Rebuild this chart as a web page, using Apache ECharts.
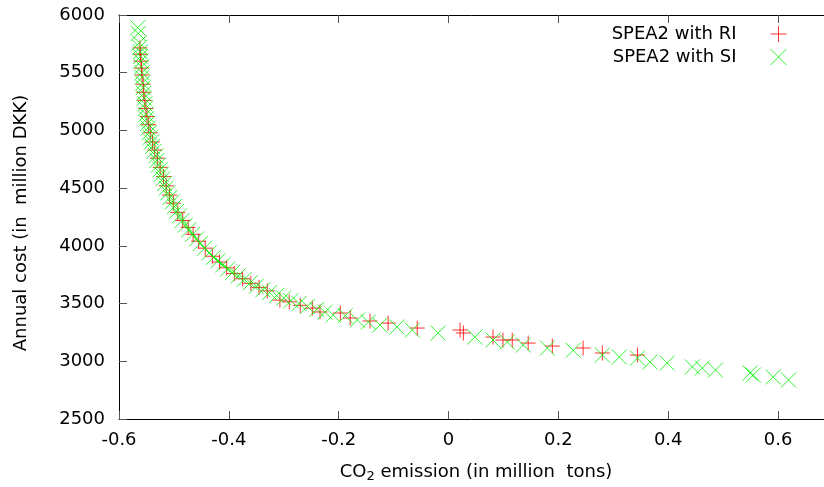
<!DOCTYPE html>
<html>
<head>
<meta charset="utf-8">
<script src="https://cdn.jsdelivr.net/npm/echarts@6/dist/echarts.min.js"></script>
<style>
  html, body { margin: 0; padding: 0; background: #fff; }
  #chart { width: 824px; height: 487px; }
</style>
</head>
<body>
<div id="chart"></div>
<script>
  // SPEA2 with RI (red +)
  const riCo2 = [
    -0.562, -0.561, -0.560, -0.559, -0.558, -0.556, -0.555, -0.553, -0.551, -0.549,
    -0.546, -0.543, -0.539, -0.535, -0.530, -0.525, -0.519, -0.514, -0.508, -0.501,
    -0.493, -0.484, -0.474, -0.465, -0.455, -0.443, -0.430, -0.417, -0.404, -0.390,
    -0.375, -0.360, -0.345, -0.330, -0.307, -0.290, -0.270, -0.248, -0.234, -0.197,
    -0.179, -0.143, -0.110, -0.057, 0.021, 0.027, 0.081, 0.099, 0.116, 0.145,
    0.189, 0.245, 0.280, 0.344
  ];
  const riCost = [
    5715, 5660, 5600, 5540, 5480, 5400, 5330, 5260, 5190, 5120,
    5050, 4980, 4900, 4830, 4760, 4680, 4600, 4520, 4440, 4370,
    4290, 4220, 4160, 4100, 4040, 3980, 3910, 3860, 3810, 3760,
    3715, 3675, 3640, 3610, 3530, 3515, 3485, 3461, 3427, 3418,
    3375, 3349, 3331, 3288, 3271, 3245, 3210, 3184, 3184, 3158,
    3132, 3115, 3072, 3054
  ];

  // SPEA2 with SI (green x)
  const siCo2 = [
    -0.566, -0.565, -0.563, -0.562, -0.561, -0.561, -0.560, -0.559, -0.558, -0.558,
    -0.557, -0.556, -0.555, -0.554, -0.553, -0.552, -0.551, -0.550, -0.548, -0.547,
    -0.545, -0.543, -0.541, -0.539, -0.536, -0.533, -0.531, -0.528, -0.525, -0.523,
    -0.520, -0.517, -0.514, -0.511, -0.507, -0.503, -0.499, -0.495, -0.490, -0.485,
    -0.479, -0.473, -0.466, -0.459, -0.452, -0.444, -0.436, -0.428, -0.420, -0.411,
    -0.402, -0.393, -0.383, -0.372, -0.361, -0.350, -0.338, -0.326, -0.313, -0.300,
    -0.287, -0.272, -0.257, -0.240, -0.225, -0.210, -0.188, -0.166, -0.146, -0.125,
    -0.094, -0.066, -0.019, 0.048, 0.081, 0.107, 0.136, 0.180, 0.227, 0.280,
    0.311, 0.344, 0.367, 0.398, 0.444, 0.462, 0.486, 0.549, 0.555, 0.591,
    0.619
  ];
  const siCost = [
    5890, 5840, 5760, 5720, 5680, 5640, 5600, 5550, 5500, 5460,
    5410, 5370, 5320, 5280, 5230, 5190, 5140, 5100, 5060, 5020,
    4980, 4940, 4900, 4860, 4820, 4780, 4740, 4700, 4660, 4620,
    4580, 4540, 4500, 4460, 4420, 4380, 4340, 4300, 4260, 4220,
    4180, 4140, 4100, 4060, 4020, 3980, 3940, 3900, 3870, 3835,
    3800, 3770, 3740, 3710, 3680, 3650, 3620, 3595, 3570, 3548,
    3525, 3500, 3475, 3450, 3425, 3401, 3395, 3357, 3340, 3314,
    3297, 3271, 3245, 3210, 3184, 3167, 3141, 3115, 3095, 3054,
    3037, 3028, 2994, 2985, 2951, 2942, 2924, 2898, 2881, 2864,
    2838
  ];

  const seriesNames = ['SPEA2 with RI', 'SPEA2 with SI'];
  const xTicks = { min: -0.6, max: 0.7, interval: 0.2 };
  const yTicks = { min: 2500, max: 6000, interval: 500 };

  const PLUS = 'path://M0,5L10,5M5,0L5,10';
  const CROSS = 'path://M0,0L10,10M0,10L10,0';
  const FONT = 'DejaVu Sans';
  const FS = 18;

  const zip = (xs, ys) => xs.map((x, i) => [x, ys[i]]);

  const chart = echarts.init(document.getElementById('chart'), null, { renderer: 'canvas' });

  const tickStyle = {
    show: true,
    inside: true,
    length: 8,
    lineStyle: { color: '#555', width: 1 }
  };

  chart.setOption({
    animation: false,
    backgroundColor: '#fff',
    textStyle: { fontFamily: FONT, color: '#000' },
    grid: { left: 119, right: -9, top: 15, bottom: 68, outerBoundsMode: 'none' },
    legend: {
      orient: 'vertical',
      right: 37,
      top: 25,
      padding: 0,
      align: 'right',
      itemWidth: 16,
      itemHeight: 16,
      itemGap: 5,
      selectedMode: false,
      itemStyle: { borderWidth: 1 },
      textStyle: { fontFamily: FONT, fontSize: FS, color: '#000', padding: [0, 29, 0, 0] },
      data: [
        { name: seriesNames[0], icon: PLUS },
        { name: seriesNames[1], icon: CROSS }
      ]
    },
    xAxis: [
      {
        type: 'value',
        position: 'bottom',
        min: xTicks.min,
        max: xTicks.max,
        interval: xTicks.interval,
        name: '{n|CO}{s|2}{n| emission (in million  tons)}',
        nameLocation: 'middle',
        nameGap: 42,
        nameTextStyle: {
          rich: {
            n: { fontFamily: FONT, fontSize: FS, color: '#000' },
            s: { fontFamily: FONT, fontSize: 13, color: '#000', padding: [9, 0, 0, 0] }
          }
        },
        axisLine: { show: true, onZero: false, lineStyle: { color: '#000', width: 1 } },
        axisTick: tickStyle,
        splitLine: { show: false },
        axisLabel: {
          showMaxLabel: false,
          margin: 12,
          fontFamily: FONT,
          fontSize: FS,
          color: '#000',
          formatter: v => (Math.round(v * 10) / 10).toString()
        }
      },
      {
        type: 'value',
        position: 'top',
        min: xTicks.min,
        max: xTicks.max,
        interval: xTicks.interval,
        axisLine: { show: true, onZero: false, lineStyle: { color: '#000', width: 1 } },
        axisTick: tickStyle,
        splitLine: { show: false },
        axisLabel: { show: false }
      }
    ],
    yAxis: {
      type: 'value',
      min: yTicks.min,
      max: yTicks.max,
      interval: yTicks.interval,
      name: 'Annual cost (in  million DKK)',
      nameLocation: 'middle',
      nameGap: 89,
      nameTextStyle: { fontFamily: FONT, fontSize: FS, color: '#000', padding: [0, 12, 0, 0] },
      axisLine: { show: true, onZero: false, lineStyle: { color: '#000', width: 1 } },
      axisTick: tickStyle,
      splitLine: { show: false },
      axisLabel: {
        margin: 14,
        fontFamily: FONT,
        fontSize: FS,
        color: '#000',
        formatter: v => String(v)
      }
    },
    series: [
      {
        name: seriesNames[0],
        type: 'scatter',
        data: zip(riCo2, riCost),
        symbol: PLUS,
        symbolSize: 15,
        symbolKeepAspect: true,
        itemStyle: { color: '#ff0000', borderColor: '#ff0000', borderWidth: 1 },
        emphasis: { disabled: true }
      },
      {
        name: seriesNames[1],
        type: 'scatter',
        data: zip(siCo2, siCost),
        symbol: CROSS,
        symbolSize: 15,
        symbolKeepAspect: true,
        itemStyle: { color: '#00ee00', borderColor: '#00ee00', borderWidth: 1 },
        emphasis: { disabled: true }
      }
    ]
  });
</script>
</body>
</html>
